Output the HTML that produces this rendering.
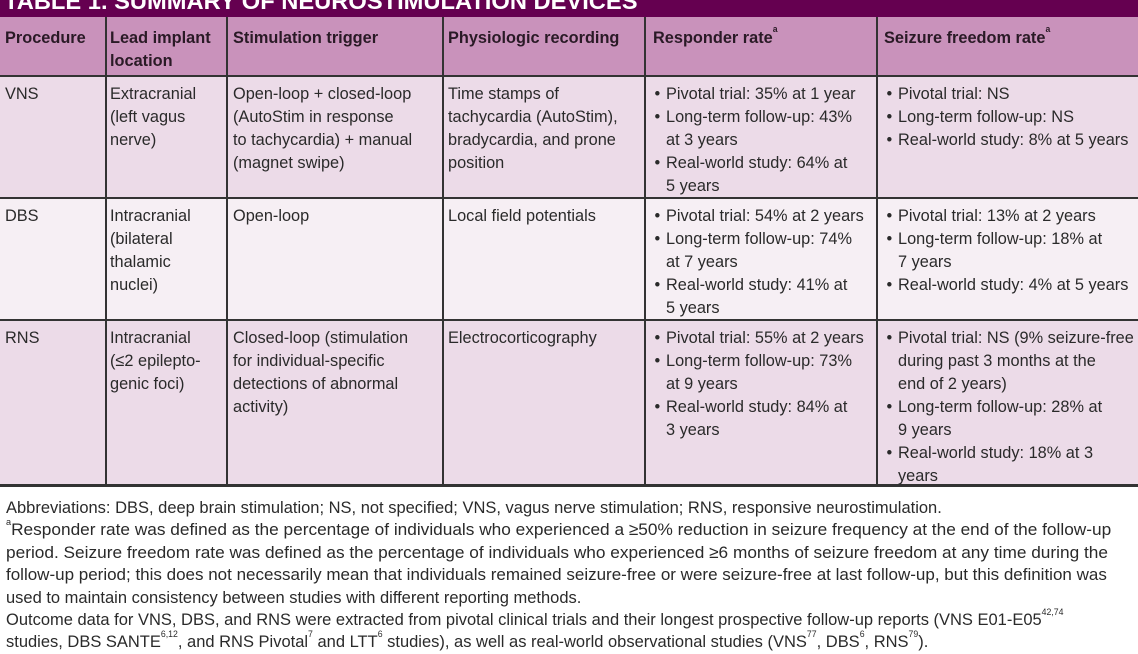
<!DOCTYPE html>
<html><head><meta charset="utf-8">
<style>
html,body{margin:0;padding:0;}
body{width:1138px;height:640px;overflow:hidden;background:#fff;position:relative;font-family:"Liberation Sans",sans-serif;color:#2a2a2a;}
.abs{position:absolute;}
.title{left:0;top:0;width:1138px;height:17px;background:#650050;overflow:hidden;}
.title span{position:absolute;left:4px;top:-12px;font-size:23px;font-weight:bold;color:#fff;white-space:nowrap;transform:scaleX(1.03);transform-origin:left;}
.row{left:0;width:1138px;}
.hdr{top:17px;height:58px;background:#c992bb;}
.r1{top:76px;height:121px;background:#ecdbe8;}
.r2{top:198px;height:121px;background:#f6eff4;}
.r3{top:320px;height:164px;background:#ecdbe8;}
.hl{left:0;width:1138px;height:2px;background:#333;}
.vl{width:2px;background:#333;top:17px;height:469px;}
.cell{position:absolute;font-size:17px;line-height:23px;}
.cell div{white-space:nowrap;transform:scaleX(0.96);transform-origin:left;height:23px;}
.hdr-t div{font-weight:bold;color:#2a1a26;}
.b{position:relative;}
.b::before{content:"•";position:absolute;left:-12px;}
.foot{left:6px;font-size:17px;line-height:22.4px;}
.foot div{white-space:nowrap;transform:scaleX(0.97);transform-origin:left;height:22.4px;}
.foot div.w{transform:scaleX(1.015);}
.foot div.m{transform:scaleX(1.0);}
sup{font-size:9px;line-height:0;vertical-align:top;position:relative;top:3px;}
</style></head><body>
<div class="abs title"><span>TABLE 1. SUMMARY OF NEUROSTIMULATION DEVICES</span></div>
<div class="abs row hdr"></div>
<div class="abs row r1"></div>
<div class="abs row r2"></div>
<div class="abs row r3"></div>
<div class="abs hl" style="top:75px"></div>
<div class="abs hl" style="top:197px"></div>
<div class="abs hl" style="top:319px"></div>
<div class="abs hl" style="top:484px;height:3px"></div>
<div class="abs vl" style="left:105px"></div>
<div class="abs vl" style="left:226px"></div>
<div class="abs vl" style="left:442px"></div>
<div class="abs vl" style="left:644px"></div>
<div class="abs vl" style="left:876px"></div>

<!-- header -->
<div class="cell hdr-t" style="left:5px;top:26px"><div>Procedure</div></div>
<div class="cell hdr-t" style="left:110px;top:26px"><div>Lead implant</div><div>location</div></div>
<div class="cell hdr-t" style="left:233px;top:26px"><div>Stimulation trigger</div></div>
<div class="cell hdr-t" style="left:448px;top:26px"><div>Physiologic recording</div></div>
<div class="cell hdr-t" style="left:653px;top:26px"><div>Responder rate<sup>a</sup></div></div>
<div class="cell hdr-t" style="left:884px;top:26px"><div>Seizure freedom rate<sup>a</sup></div></div>

<!-- VNS -->
<div class="cell" style="left:5px;top:82px"><div>VNS</div></div>
<div class="cell" style="left:110px;top:82px"><div>Extracranial</div><div>(left vagus</div><div>nerve)</div></div>
<div class="cell" style="left:233px;top:82px"><div>Open-loop + closed-loop</div><div>(AutoStim in response</div><div>to tachycardia) + manual</div><div>(magnet swipe)</div></div>
<div class="cell" style="left:448px;top:82px"><div>Time stamps of</div><div>tachycardia (AutoStim),</div><div>bradycardia, and prone</div><div>position</div></div>
<div class="cell" style="left:666px;top:82px"><div class="b">Pivotal trial: 35% at 1 year</div><div class="b">Long-term follow-up: 43%</div><div>at 3 years</div><div class="b">Real-world study: 64% at</div><div>5 years</div></div>
<div class="cell" style="left:898px;top:82px"><div class="b">Pivotal trial: NS</div><div class="b">Long-term follow-up: NS</div><div class="b">Real-world study: 8% at 5 years</div></div>

<!-- DBS -->
<div class="cell" style="left:5px;top:204px"><div>DBS</div></div>
<div class="cell" style="left:110px;top:204px"><div>Intracranial</div><div>(bilateral</div><div>thalamic</div><div>nuclei)</div></div>
<div class="cell" style="left:233px;top:204px"><div>Open-loop</div></div>
<div class="cell" style="left:448px;top:204px"><div>Local field potentials</div></div>
<div class="cell" style="left:666px;top:204px"><div class="b">Pivotal trial: 54% at 2 years</div><div class="b">Long-term follow-up: 74%</div><div>at 7 years</div><div class="b">Real-world study: 41% at</div><div>5 years</div></div>
<div class="cell" style="left:898px;top:204px"><div class="b">Pivotal trial: 13% at 2 years</div><div class="b">Long-term follow-up: 18% at</div><div>7 years</div><div class="b">Real-world study: 4% at 5 years</div></div>

<!-- RNS -->
<div class="cell" style="left:5px;top:326px"><div>RNS</div></div>
<div class="cell" style="left:110px;top:326px"><div>Intracranial</div><div>(≤2 epilepto-</div><div>genic foci)</div></div>
<div class="cell" style="left:233px;top:326px"><div>Closed-loop (stimulation</div><div>for individual-specific</div><div>detections of abnormal</div><div>activity)</div></div>
<div class="cell" style="left:448px;top:326px"><div>Electrocorticography</div></div>
<div class="cell" style="left:666px;top:326px"><div class="b">Pivotal trial: 55% at 2 years</div><div class="b">Long-term follow-up: 73%</div><div>at 9 years</div><div class="b">Real-world study: 84% at</div><div>3 years</div></div>
<div class="cell" style="left:898px;top:326px"><div class="b">Pivotal trial: NS (9% seizure-free</div><div>during past 3 months at the</div><div>end of 2 years)</div><div class="b">Long-term follow-up: 28% at</div><div>9 years</div><div class="b">Real-world study: 18% at 3</div><div>years</div></div>

<!-- footnotes -->
<div class="abs foot" style="top:497px">
<div>Abbreviations: DBS, deep brain stimulation; NS, not specified; VNS, vagus nerve stimulation; RNS, responsive neurostimulation.</div>
<div class="w"><sup>a</sup>Responder rate was defined as the percentage of individuals who experienced a ≥50% reduction in seizure frequency at the end of the follow-up</div>
<div class="w">period. Seizure freedom rate was defined as the percentage of individuals who experienced ≥6 months of seizure freedom at any time during the</div>
<div class="m">follow-up period; this does not necessarily mean that individuals remained seizure-free or were seizure-free at last follow-up, but this definition was</div>
<div>used to maintain consistency between studies with different reporting methods.</div>
<div>Outcome data for VNS, DBS, and RNS were extracted from pivotal clinical trials and their longest prospective follow-up reports (VNS E01-E05<sup>42,74</sup></div>
<div>studies, DBS SANTE<sup>6,12</sup>, and RNS Pivotal<sup>7</sup> and LTT<sup>6</sup> studies), as well as real-world observational studies (VNS<sup>77</sup>, DBS<sup>6</sup>, RNS<sup>79</sup>).</div>
</div>
</body></html>
